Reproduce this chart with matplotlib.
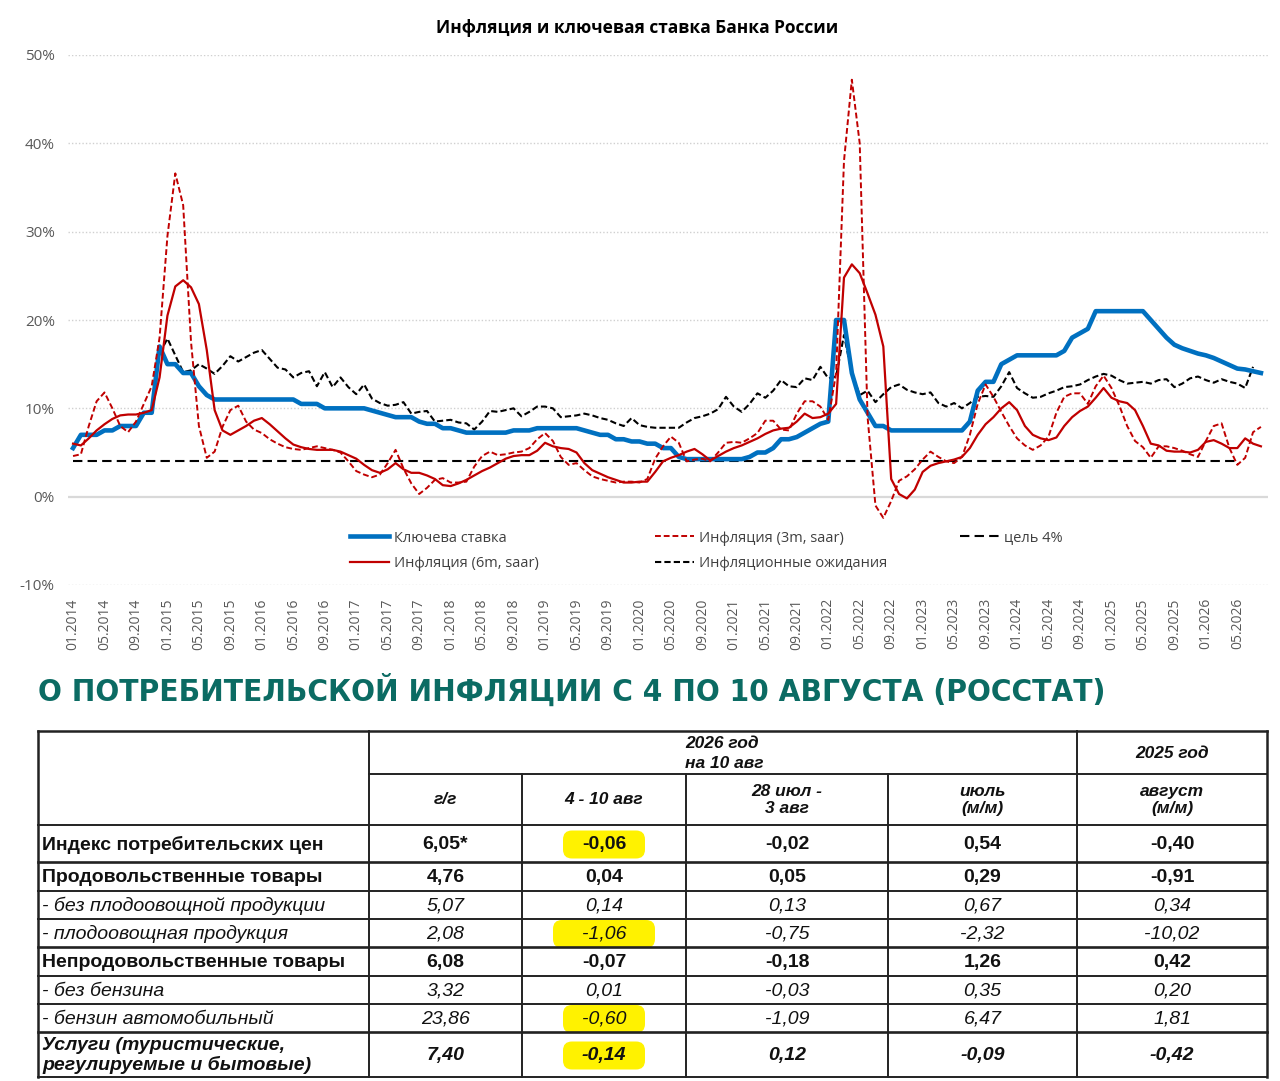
import numpy as np
import pandas as pd
import matplotlib
matplotlib.use('Agg')
import matplotlib.pyplot as plt
from matplotlib import font_manager as fm
from matplotlib.lines import Line2D
from matplotlib.patches import FancyBboxPatch

nan = np.nan

# ---------------- данные графика (помесячно, 01.2014 - 08.2026) ----------------
months = pd.date_range('2014-01-01', periods=152, freq='MS')

key_rate = [
    5.5, 7.0, 7.0, 7.0, 7.5, 7.5, 8.0, 8.0, 8.0, 9.5, 9.5, 17.0,          # 2014
    15.0, 15.0, 14.0, 14.0, 12.5, 11.5, 11.0, 11.0, 11.0, 11.0, 11.0, 11.0,  # 2015
    11.0, 11.0, 11.0, 11.0, 11.0, 10.5, 10.5, 10.5, 10.0, 10.0, 10.0, 10.0,  # 2016
    10.0, 10.0, 9.75, 9.5, 9.25, 9.0, 9.0, 9.0, 8.5, 8.25, 8.25, 7.75,      # 2017
    7.75, 7.5, 7.25, 7.25, 7.25, 7.25, 7.25, 7.25, 7.5, 7.5, 7.5, 7.75,     # 2018
    7.75, 7.75, 7.75, 7.75, 7.75, 7.5, 7.25, 7.0, 7.0, 6.5, 6.5, 6.25,      # 2019
    6.25, 6.0, 6.0, 5.5, 5.5, 4.5, 4.25, 4.25, 4.25, 4.25, 4.25, 4.25,      # 2020
    4.25, 4.25, 4.5, 5.0, 5.0, 5.5, 6.5, 6.5, 6.75, 7.25, 7.75, 8.25,       # 2021
    8.5, 20.0, 20.0, 14.0, 11.0, 9.5, 8.0, 8.0, 7.5, 7.5, 7.5, 7.5,         # 2022
    7.5, 7.5, 7.5, 7.5, 7.5, 7.5, 8.5, 12.0, 13.0, 13.0, 15.0, 15.5,        # 2023
    16.0, 16.0, 16.0, 16.0, 16.0, 16.0, 16.5, 18.0, 18.5, 19.0, 21.0, 21.0,  # 2024
    21.0, 21.0, 21.0, 21.0, 21.0, 20.0, 19.0, 18.0, 17.2, 16.8, 16.5, 16.2,  # 2025
    16.0, 15.7, 15.3, 14.9, 14.5, 14.4, 14.2, 14.0,                          # 2026
]

infl_6m = [
    6.0, 5.8, 6.6, 7.5, 8.2, 8.8, 9.2, 9.3, 9.3, 9.5, 9.8, 13.5,
    20.5, 23.8, 24.5, 23.7, 21.8, 16.6, 9.8, 7.5, 7.0, 7.5, 8.0, 8.6,
    8.9, 8.2, 7.4, 6.6, 5.9, 5.6, 5.4, 5.3, 5.3, 5.3, 5.1, 4.7,
    4.3, 3.6, 3.0, 2.7, 3.1, 3.8, 3.1, 2.7, 2.7, 2.4, 2.0, 1.3,
    1.2, 1.5, 1.9, 2.4, 2.9, 3.3, 3.8, 4.3, 4.6, 4.7, 4.7, 5.2,
    6.1, 5.7, 5.5, 5.4, 5.0, 3.8, 3.0, 2.6, 2.2, 1.9, 1.6, 1.6,
    1.7, 1.7, 2.8, 4.0, 4.4, 4.7, 5.1, 5.4, 4.8, 4.1, 4.6, 5.1,
    5.5, 5.8, 6.2, 6.6, 7.1, 7.5, 7.7, 7.8, 8.5, 9.4, 8.9, 9.0,
    9.4, 10.5, 24.8, 26.3, 25.3, 23.0, 20.6, 17.0, 2.0, 0.3, -0.2, 0.8,
    2.8, 3.5, 3.8, 4.0, 4.2, 4.5, 5.5, 7.0, 8.2, 9.0, 10.0, 10.7,
    9.8, 8.0, 7.0, 6.6, 6.4, 6.7, 8.0, 9.0, 9.7, 10.2, 11.2, 12.3,
    11.2, 10.8, 10.6, 9.8, 8.0, 6.0, 5.8, 5.2, 5.1, 5.1, 5.0, 5.3,
    6.2, 6.4, 6.0, 5.5, 5.5, 6.6, 6.0, 5.7,
]

infl_3m = [
    4.6, 4.8, 8.0, 10.8, 11.8, 10.0, 8.0, 7.3, 8.5, 10.5, 12.5, 18.0,
    29.5, 36.6, 33.0, 17.5, 8.0, 4.4, 5.1, 7.9, 9.8, 10.3, 8.5, 7.6,
    7.2, 6.5, 6.0, 5.6, 5.4, 5.3, 5.5, 5.7, 5.5, 5.3, 5.0, 4.0,
    2.9, 2.5, 2.2, 2.5, 3.8, 5.3, 3.2, 1.5, 0.3, 1.0, 1.9, 2.1,
    1.6, 1.6, 1.7, 3.4, 4.6, 5.1, 4.7, 4.8, 5.0, 5.1, 5.5, 6.5,
    7.2, 6.3, 4.5, 3.6, 3.8, 3.0, 2.3, 2.0, 1.8, 1.6, 1.7, 1.7,
    1.6, 2.0, 4.3, 5.7, 6.8, 6.1, 4.0, 4.2, 4.3, 4.0, 5.0, 6.1,
    6.2, 6.1, 6.6, 7.2, 8.6, 8.6, 7.6, 7.5, 9.4, 10.8, 10.8, 10.2,
    8.7, 14.0, 38.0, 47.2, 40.0, 9.0, -1.0, -2.4, -0.5, 1.8, 2.3, 3.1,
    4.2, 5.1, 4.5, 4.0, 3.8, 4.5, 7.0, 10.5, 12.7, 11.3, 9.6, 8.0,
    6.6, 5.8, 5.3, 5.8, 6.8, 9.5, 11.3, 11.7, 11.7, 10.5, 12.5, 13.7,
    12.3, 10.3, 8.0, 6.3, 5.6, 4.4, 5.7, 5.7, 5.5, 5.2, 4.8, 4.5,
    6.3, 8.0, 8.3, 5.5, 3.6, 4.4, 7.3, 7.9,
]

expectations = [
    nan, nan, nan, nan, nan, nan, nan, nan, nan, nan, nan, 16.2,
    17.9, 16.0, 14.1, 14.3, 15.0, 14.5, 13.9, 14.8, 15.9, 15.3, 15.8, 16.3,
    16.6, 15.6, 14.6, 14.4, 13.5, 14.0, 14.2, 12.5, 14.1, 12.4, 13.5, 12.4,
    11.6, 12.7, 11.1, 10.6, 10.3, 10.4, 10.7, 9.4, 9.6, 9.7, 8.5, 8.6,
    8.7, 8.4, 8.3, 7.6, 8.5, 9.7, 9.6, 9.8, 10.0, 9.1, 9.6, 10.2,
    10.2, 10.0, 9.0, 9.1, 9.2, 9.4, 9.2, 8.9, 8.7, 8.3, 8.0, 8.9,
    8.1, 7.9, 7.8, 7.8, 7.8, 7.8, 8.4, 8.9, 9.1, 9.4, 9.9, 11.3,
    10.2, 9.6, 10.5, 11.7, 11.2, 12.0, 13.2, 12.5, 12.4, 13.4, 13.2, 14.7,
    13.4, 13.6, 18.3, 14.0, 11.5, 12.0, 10.7, 11.6, 12.4, 12.7, 12.1, 11.8,
    11.6, 11.8, 10.6, 10.2, 10.6, 10.0, 10.6, 11.3, 11.4, 11.3, 12.5, 14.1,
    12.3, 11.7, 11.2, 11.3, 11.7, 12.0, 12.4, 12.5, 12.7, 13.2, 13.6, 13.9,
    13.7, 13.2, 12.8, 12.9, 13.0, 12.8, 13.2, 13.3, 12.4, 12.8, 13.4, 13.6,
    13.2, 12.9, 13.3, 13.0, 12.8, 12.3, 14.7, nan,
]

target = [4.0] * 149 + [nan] * 3

series_labels = ['Ключева ставка', 'Инфляция (6m, saar)', 'Инфляция (3m, saar)',
                 'Инфляционные ожидания', 'цель 4%']

# ---------------- данные таблицы ----------------
heading = 'О ПОТРЕБИТЕЛЬСКОЙ ИНФЛЯЦИИ С 4 ПО 10 АВГУСТА (РОССТАТ)'
row_labels = ['Индекс потребительских цен', 'Продовольственные товары',
              '- без плодоовощной продукции', '- плодоовощная продукция',
              'Непродовольственные товары', '- без бензина',
              '- бензин автомобильный',
              'Услуги (туристические,\nрегулируемые и бытовые)']
col_headers = ['г/г', '4 - 10 авг', '28 июл -\n3 авг', 'июль\n(м/м)', 'август\n(м/м)']
col_yoy = ['6,05*', '4,76', '5,07', '2,08', '6,08', '3,32', '23,86', '7,40']
col_week = ['-0,06', '0,04', '0,14', '-1,06', '-0,07', '0,01', '-0,60', '-0,14']
col_prev_week = ['-0,02', '0,05', '0,13', '-0,75', '-0,18', '-0,03', '-1,09', '0,12']
col_july = ['0,54', '0,29', '0,67', '-2,32', '1,26', '0,35', '6,47', '-0,09']
col_aug_2025 = ['-0,40', '-0,91', '0,34', '-10,02', '0,42', '0,20', '1,81', '-0,42']
row_style = ['b', 'b', 'i', 'i', 'b', 'i', 'i', 'bi']
highlight_rows = [0, 3, 6, 7]

# ---------------- рисунок ----------------
plt.rcParams['font.family'] = ['Open Sans', 'DejaVu Sans']
W, H = 1280, 1081
fig = plt.figure(figsize=(W / 100, H / 100), dpi=100)
fig.patch.set_facecolor('white')

fig.text(637 / W, 1 - 28 / H, 'Инфляция и ключевая ставка Банка России',
         ha='center', va='center', fontsize=12.5, fontweight='bold', color='black')

ax = fig.add_axes([68 / W, 1 - 585 / H, 1200 / W, 530 / H])
x = np.arange(len(months))

for v in [-10, 10, 20, 30, 40, 50]:
    ax.axhline(v, color='#D0D0D0', lw=1.0, ls=(0, (1, 1.5)), zorder=0)
ax.axhline(0, color='#D9D9D9', lw=1.6, zorder=0)

DASH = (0, (3, 1.5))
ax.plot(x, target, color='black', lw=1.5, ls=(0, (4.5, 2.5)), zorder=2)
ax.plot(x, expectations, color='black', lw=1.5, ls=DASH, zorder=2)
ax.plot(x, key_rate, color='#0070C0', lw=3.3, zorder=3)
ax.plot(x, infl_6m, color='#C00000', lw=1.6, zorder=4)
ax.plot(x, infl_3m, color='#C00000', lw=1.4, ls=DASH, zorder=5)

ax.set_xlim(-0.64, 151.9)
ax.set_ylim(-10, 50)
ax.set_yticks(range(-10, 51, 10))
ax.set_yticklabels([f'{v}%' for v in range(-10, 51, 10)])
tick_idx = list(range(0, 149, 4))
ax.set_xticks(tick_idx)
ax.set_xticklabels([months[i].strftime('%m.%Y') for i in tick_idx], rotation=90)
ax.tick_params(axis='y', length=0, pad=9.5, labelsize=11, colors='#595959')
ax.tick_params(axis='x', length=0, pad=9.5, labelsize=10, colors='#595959')
for s in ax.spines.values():
    s.set_visible(False)

h_key = Line2D([], [], color='#0070C0', lw=3.3)
h_6m = Line2D([], [], color='#C00000', lw=1.6)
h_3m = Line2D([], [], color='#C00000', lw=1.4, ls=DASH)
h_exp = Line2D([], [], color='black', lw=1.5, ls=DASH)
h_tgt = Line2D([], [], color='black', lw=1.5, ls=(0, (4.5, 2.5)))


def add_legend(handles, labels, x_px, y_px):
    lg = fig.legend(handles, labels, loc='center left',
                    bbox_to_anchor=(x_px / W, 1 - y_px / H), frameon=False,
                    fontsize=10.5, handlelength=2.7, handletextpad=0.3,
                    labelspacing=0.75, borderpad=0, borderaxespad=0)
    for t in lg.get_texts():
        t.set_color('#404040')
    return lg


add_legend([h_key, h_6m], [series_labels[0], series_labels[1]], 350, 551)
add_legend([h_3m, h_exp], [series_labels[2], series_labels[3]], 655, 551)
add_legend([h_tgt], [series_labels[4]], 960, 538)

# ---------------- заголовок и таблица ----------------
tax = fig.add_axes([0, 0, 1, 1])
tax.set_xlim(0, W)
tax.set_ylim(H, 0)
tax.axis('off')
tax.patch.set_alpha(0)


def pick_narrow():
    pref = []
    for f in fm.fontManager.ttflist:
        w = f.weight
        bold = (isinstance(w, (int, float)) and w >= 600) or str(w) in ('bold', '700', 'heavy')
        narrow = ('Narrow' in f.name or 'Condensed' in f.name or
                  f.stretch in ('condensed', 'semi-condensed'))
        if bold and narrow and f.style == 'normal':
            rank = 0 if 'Liberation' in f.name else (1 if 'DejaVu' in f.name else 2)
            pref.append((rank, f.fname))
    if pref:
        pref.sort()
        return fm.FontProperties(fname=pref[0][1], size=28)
    return fm.FontProperties(family='Liberation Sans', weight='bold', size=28)


hp = pick_narrow()
ht = tax.text(38, 690, heading, ha='left', va='center', color='#0B6B63', fontproperties=hp)
fig.canvas.draw()
bw = ht.get_window_extent().width
hp.set_size(28 * 1067 / bw)
ht.set_fontproperties(hp)

TF = 'Liberation Sans'
col_x = [38, 369, 522, 686, 888, 1077, 1267]
row_y = [825, 862, 891, 919, 947, 976, 1004, 1032, 1077]
thick_rows = {862, 947, 1032}

LC = '#222222'
tax.plot([38, 1267], [731, 731], color=LC, lw=1.8)
tax.plot([369, 1267], [774, 774], color=LC, lw=1.4)
for y in row_y:
    tax.plot([38, 1267], [y, y], color=LC, lw=1.9 if y in thick_rows else 1.4)
tax.plot([38, 38], [731, 1077], color=LC, lw=1.8)
tax.plot([1267, 1267], [731, 1077], color=LC, lw=1.8)
tax.plot([369, 369], [731, 1077], color=LC, lw=1.4)
tax.plot([1077, 1077], [731, 1077], color=LC, lw=1.4)
for cx in col_x[2:5]:
    tax.plot([cx, cx], [774, 1077], color=LC, lw=1.4)

hdr = dict(family=TF, fontsize=12.5, fontweight='bold', style='italic', color='#111111')
tax.text(685, 743, '2026 год', ha='left', va='center', **hdr)
tax.text(685, 763, 'на 10 авг', ha='left', va='center', **hdr)
tax.text(1172, 753, '2025 год', ha='center', va='center', **hdr)
for j, lab in enumerate(col_headers):
    cx = (col_x[j + 1] + col_x[j + 2]) / 2
    tax.text(cx, 800, lab, ha='center', va='center', linespacing=1.2, **hdr)

columns = [col_yoy, col_week, col_prev_week, col_july, col_aug_2025]
for r, lab in enumerate(row_labels):
    cy = (row_y[r] + row_y[r + 1]) / 2 + 1
    st = row_style[r]
    fw = 'bold' if 'b' in st else 'normal'
    fs = 'italic' if 'i' in st else 'normal'
    tax.text(42, cy, lab, ha='left', va='center', family=TF, fontsize=14,
             fontweight=fw, style=fs, color='#111111', linespacing=1.1)
    for j, col in enumerate(columns):
        cx = (col_x[j + 1] + col_x[j + 2]) / 2
        tax.text(cx, cy, col[r], ha='center', va='center', family=TF, fontsize=14,
                 fontweight=fw, style=fs, color='#111111', zorder=3)
    if r in highlight_rows:
        cx = (col_x[2] + col_x[3]) / 2
        hw = 38 if r != 3 else 48
        tax.add_patch(FancyBboxPatch((cx - hw, cy - 11), 2 * hw, 22,
                                     boxstyle='round,pad=3,rounding_size=9',
                                     fc='#FFF200', ec='none', zorder=1))

fig.savefig('out.png', dpi=100, facecolor='white')
